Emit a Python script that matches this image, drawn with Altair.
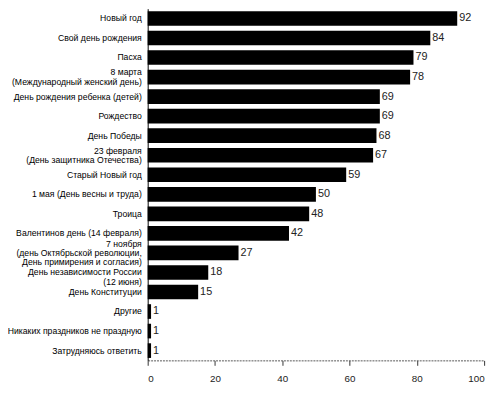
import altair as alt
import pandas as pd

categories = [
    "Новый год",
    "Свой день рождения",
    "Пасха",
    "8 марта|(Международный женский день)",
    "День рождения ребенка (детей)",
    "Рождество",
    "День Победы",
    "23 февраля|(День защитника Отечества)",
    "Старый Новый год",
    "1 мая (День весны и труда)",
    "Троица",
    "Валентинов день (14 февраля)",
    "7 ноября|(день Октябрьской революции,|День примирения и согласия)",
    "День независимости России|(12 июня)",
    "День Конституции",
    "Другие",
    "Никаких праздников не праздную",
    "Затрудняюсь ответить",
]
values = [92, 84, 79, 78, 69, 69, 68, 67, 59, 50, 48, 42, 27, 18, 15, 1, 1, 1]
x_ticks = [0, 20, 40, 60, 80, 100]

df = pd.DataFrame({"cat": categories, "val": values})
df["nlines"] = df["cat"].str.count(r"\|") + 1

LH = 9.5
FONT = "Liberation Sans"
LOW_LABEL = "День независимости России|(12 июня)"

y_scale = alt.Scale(paddingInner=0.25, paddingOuter=0.125, range=[-2.5, 355])

y_enc = alt.Y("cat:N", sort=categories, title=None, scale=y_scale,
              axis=alt.Axis(labels=False, ticks=False, domainColor="#000", title=None))
x_enc = alt.X(
    "val:Q",
    title=None,
    scale=alt.Scale(domain=[0, 100], nice=False),
    axis=alt.Axis(
        values=x_ticks,
        grid=False,
        tickSize=5,
        tickColor="#333",
        domainColor="#555",
        domainDash=[2, 1],
        labelFontSize=10,
        labelFont=FONT,
        labelColor="#222",
        labelPadding=8,
    ),
)

bars = alt.Chart(df).mark_bar(color="#000").encode(x=x_enc, y=y_enc)
text = alt.Chart(df).mark_text(
    align="left", baseline="middle", dx=2, fontSize=11, font=FONT, color="#222"
).encode(x="val:Q", y=alt.Y("cat:N", sort=categories), text="val:Q")


def label_layer(filt, dy):
    return (
        alt.Chart(df)
        .transform_filter(filt)
        .mark_text(
            align="right", baseline="middle", fontSize=8.8, font=FONT, color="#000",
            lineBreak="|", lineHeight=LH, dy=dy,
        )
        .encode(x=alt.value(-6), y=alt.Y("cat:N", sort=categories), text="cat:N")
    )


label_layers = [
    label_layer(alt.datum.nlines == 1, 0),
    label_layer((alt.datum.nlines == 2) & (alt.datum.cat != LOW_LABEL), -LH / 2),
    label_layer(alt.datum.cat == LOW_LABEL, 0),
    label_layer(alt.datum.nlines == 3, -LH),
]

chart = (
    alt.layer(bars, text, *label_layers)
    .properties(
        width=342,
        height=355,
        autosize=alt.AutoSizeParams(type="none"),
        padding={"left": 142, "top": 0, "right": 8, "bottom": 33},
    )
    .configure_view(stroke=None)
)

chart.save("out.html", embed_options={"renderer": "svg", "actions": False})
